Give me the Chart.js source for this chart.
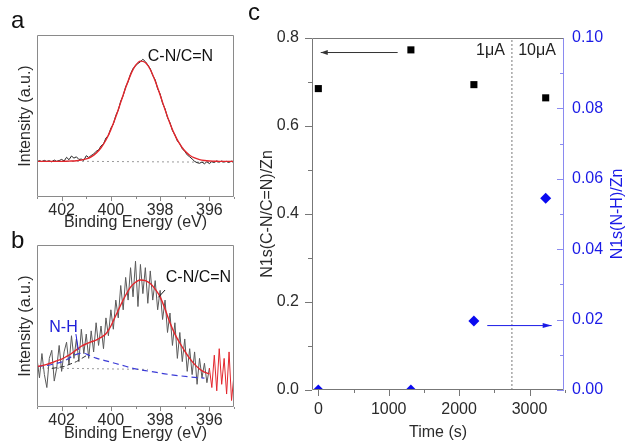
<!DOCTYPE html>
<html>
<head>
<meta charset="utf-8">
<script src="https://cdn.jsdelivr.net/npm/chart.js@4.4.1/dist/chart.umd.min.js"></script>
<style>
  html, body { margin: 0; padding: 0; background: #fff; }
  #wrap { position: relative; width: 631px; height: 443px; overflow: hidden; }
  canvas { position: absolute; }
  #panelA { left: 0; top: 0; }
  #panelB { left: 0; top: 228px; }
  #panelC { left: 230px; top: 0; }
</style>
</head>
<body>
<div id="wrap">
  <canvas id="panelA" width="240" height="232"></canvas>
  <canvas id="panelB" width="240" height="215"></canvas>
  <canvas id="panelC" width="401" height="443"></canvas>
</div>
<script>
// binding energy grids (eV)
const eFine = [403.0, 402.9, 402.8, 402.7, 402.6, 402.5, 402.4, 402.3, 402.2, 402.1,
  402.0, 401.9, 401.8, 401.7, 401.6, 401.5, 401.4, 401.3, 401.2, 401.1,
  401.0, 400.9, 400.8, 400.7, 400.6, 400.5, 400.4, 400.3, 400.2, 400.1,
  400.0, 399.9, 399.8, 399.7, 399.6, 399.5, 399.4, 399.3, 399.2, 399.1,
  399.0, 398.9, 398.8, 398.7, 398.6, 398.5, 398.4, 398.3, 398.2, 398.1,
  398.0, 397.9, 397.8, 397.7, 397.6, 397.5, 397.4, 397.3, 397.2, 397.1,
  397.0, 396.9, 396.8, 396.7, 396.6, 396.5, 396.4, 396.3, 396.2, 396.1,
  396.0, 395.9, 395.8, 395.7, 395.6, 395.5, 395.4, 395.3, 395.2, 395.1,
  395.0];
const eCoarse = [403.0, 402.8, 402.6, 402.4, 402.2, 402.0, 401.8, 401.6, 401.4, 401.2,
  401.0, 400.8, 400.6, 400.4, 400.2, 400.0, 399.8, 399.6, 399.4, 399.2,
  399.0, 398.8, 398.6, 398.4, 398.2, 398.0, 397.8, 397.6, 397.4, 397.2,
  397.0, 396.8, 396.6, 396.4, 396.2, 396.0, 395.8, 395.6, 395.4, 395.2,
  395.0];
const energyTicks = [396, 398, 400, 402];
const energyMinor = [395, 397, 399, 401, 403];

// panel a: measured N1s and fit (a.u.)
const spectrumA = [21.5, 22.5, 21.8, 22.6, 21.9, 22.4, 21.7, 22.8, 22.0, 22.5,
  23.2, 22.2, 24.5, 23.0, 25.3, 24.0, 24.8, 23.2, 23.4, 22.6,
  25.5, 24.4, 25.6, 26.5, 28.2, 29.0, 31.5, 32.8, 36.4, 38.0,
  42.5, 45.0, 50.3, 53.6, 59.2, 62.6, 68.0, 71.2, 76.0, 79.3,
  81.0, 82.4, 83.5, 85.0, 83.6, 81.5, 79.2, 75.0, 72.3, 66.8,
  63.6, 57.8, 54.5, 49.0, 45.9, 41.0, 38.4, 34.6, 32.9, 29.8,
  28.2, 26.0, 24.8, 23.5, 22.0, 21.2, 20.8, 21.6, 20.5, 21.8,
  20.6, 21.9, 21.3, 22.3, 21.5, 22.2, 21.6, 22.0, 21.4, 22.1,
  21.8];
const fitA = [22.0, 22.0, 22.0, 22.0, 22.0, 22.0, 22.1, 22.2, 22.4, 22.8,
  23.5, 24.8, 27.0, 30.4, 35.2, 41.6, 49.5, 58.4, 67.4, 75.4,
  81.2, 83.9, 83.0, 78.7, 71.6, 63.0, 53.9, 45.4, 38.2, 32.6,
  28.5, 25.8, 24.1, 23.1, 22.5, 22.2, 22.1, 22.0, 22.0, 22.0,
  22.0];
const baseA = [22.2, 21.4];
const baseAE = [403, 395];

// panel b: noisy N1s (403-396 eV grey, 396-395 eV red) and fits
const spectrumB = [30, 18, 33, 20, 12, 30, 35, 16, 24, 38,
  22, 34, 40, 26, 44, 30, 42, 28, 48, 33,
  45, 30, 47, 34, 52, 38, 50, 36, 55, 44,
  60, 48, 66, 55, 75, 60, 80, 66, 86, 68,
  90, 62, 88, 70, 86, 64, 84, 66, 78, 60,
  72, 54, 66, 46, 58, 38, 52, 30, 46, 28,
  42, 22, 36, 20, 34, 14, 30, 18, 27, 15,
  24];
const spectrumBTail = [24, 12, 32, 10, 36, 14, 30, 8, 34, 4, 20];
const fitB = [25, 25.5, 26.3, 27.3, 28.5, 29.6, 31.2, 33.0, 35.3, 37.5,
  39.0, 40.2, 41.3, 43.0, 45.2, 50.0, 56.5, 63, 69, 74,
  77, 78.4, 78, 76.2, 72.8, 68, 60.5, 52, 45, 39.5,
  34.5, 30, 26.3, 23.5, 21.5, 20.5];
const nhE = [403, 402.6, 402.2, 401.9, 401.6, 401.3, 401.1, 400.9, 400.6, 400.2, 399.6, 399.0, 398.4, 397.6, 396.8, 396.2];
const nhFit = [25, 25.6, 27, 28.3, 31, 33, 33.2, 32, 30.2, 28.5, 26, 23.5, 22, 20, 18.6, 17.8];
const cnTailE = [402.4, 401.9, 401.4, 400.9];
const cnTail = [23.8, 25, 28, 32.6];
const baseBE = [403, 398.5];
const baseB = [24.1, 23.2];

// panel c
const timeS = [0, 1315, 2210, 3230];
const ratioCN = [0.685, 0.773, 0.694, 0.664];
const ratioNH = [0, 0, 0.0196, 0.0545];
const switchTime = 2750;
const timeTicks = [0, 1000, 2000, 3000];
const timeMinor = [500, 1500, 2500, 3500];
const leftTicks = [0, 0.2, 0.4, 0.6, 0.8];
const leftMinor = [0.1, 0.3, 0.5, 0.7];
const rightTicks = [0, 0.02, 0.04, 0.06, 0.08, 0.1];
const rightMinor = [0.01, 0.03, 0.05, 0.07, 0.09];

const FONT = "'Liberation Sans', Arial, sans-serif";
const TXT = "#2b2b2b";
const BLUE = "#1a1ae6";
Chart.defaults.font.family = FONT;
Chart.defaults.font.size = 16;
Chart.defaults.color = TXT;

function toPoints(xs, ys) {
  return ys.map(function (y, i) { return { x: xs[i], y: y }; });
}
function fixedTicks(values) {
  return function (scale) { scale.ticks = values.map(function (v) { return { value: v }; }); };
}
const noGrid = { display: false, drawTicks: false };

// tick marks (major/minor, in or out) and the frame around the plot
const frameTicks = {
  id: "frameTicks",
  afterDraw(chart, args, opts) {
    const ctx = chart.ctx;
    const a = chart.chartArea;
    ctx.save();
    ctx.lineWidth = 1;
    (opts.marks || []).forEach(function (m) {
      const s = chart.scales[m.axis];
      ctx.strokeStyle = m.color;
      ctx.beginPath();
      m.values.forEach(function (v) {
        const p = Math.round(s.getPixelForValue(v)) + 0.5;
        if (s.isHorizontal()) {
          ctx.moveTo(p, a.bottom); ctx.lineTo(p, a.bottom + m.len);
        } else {
          const x0 = m.axis === "y2" ? a.right : a.left;
          ctx.moveTo(x0, p); ctx.lineTo(x0 + m.len, p);
        }
      });
      ctx.stroke();
    });
    const L = Math.round(a.left) + 0.5, R = Math.round(a.right) - 0.5;
    const T = Math.round(a.top) + 0.5, B = Math.round(a.bottom) - 0.5;
    const side = opts.sides || {};
    [["top", L, T, R, T], ["bottom", L, B, R, B], ["left", L, T, L, B], ["right", R, T, R, B]].forEach(function (d) {
      ctx.strokeStyle = side[d[0]] || "#8a8a8a";
      ctx.beginPath(); ctx.moveTo(d[1], d[2]); ctx.lineTo(d[3], d[4]); ctx.stroke();
    });
    ctx.restore();
  },
};

function panelLetter(ctx, letter, x, y) {
  ctx.save();
  ctx.font = "24px " + FONT;
  ctx.fillStyle = "#111";
  ctx.textAlign = "left";
  ctx.textBaseline = "alphabetic";
  ctx.fillText(letter, x, y);
  ctx.restore();
}

function arrow(ctx, x0, y0, x1, y1, color, headLen) {
  ctx.strokeStyle = color; ctx.fillStyle = color; ctx.lineWidth = 1;
  ctx.beginPath(); ctx.moveTo(x0, y0); ctx.lineTo(x1, y1); ctx.stroke();
  const dir = Math.sign(x1 - x0);
  ctx.beginPath();
  ctx.moveTo(x1, y1);
  ctx.lineTo(x1 - dir * headLen, y1 - 2.5);
  ctx.lineTo(x1 - dir * headLen, y1 + 2.5);
  ctx.closePath(); ctx.fill();
}

function xpsOptions(padTop, xHeight) {
  return {
    responsive: false,
    animation: false,
    devicePixelRatio: 1,
    layout: { padding: { top: padTop, right: 6, left: 0, bottom: 0 } },
    plugins: {
      legend: { display: false },
      tooltip: { enabled: false },
      frameTicks: {
        marks: [
          { axis: "x", values: energyTicks, len: 4, color: "#8a8a8a" },
          { axis: "x", values: energyMinor, len: 2, color: "#8a8a8a" },
        ],
      },
    },
    scales: {
      x: {
        type: "linear", min: 395, max: 403, reverse: true,
        afterBuildTicks: fixedTicks(energyTicks),
        afterFit: function (s) { s.height = xHeight; },
        grid: noGrid, border: { display: false },
        ticks: { padding: 4, autoSkip: false, maxRotation: 0, color: TXT },
        title: { display: true, text: "Binding Energy (eV)", color: TXT, padding: { top: 0, bottom: 0 } },
      },
      y: {
        min: 0, max: 100,
        afterFit: function (s) { s.width = 37; },
        grid: noGrid, border: { display: false },
        ticks: { display: false },
        title: { display: true, text: "Intensity (a.u.)", color: TXT, padding: { top: 16, bottom: 0 } },
      },
    },
  };
}

function lineSet(xs, ys, color, width, extra) {
  return Object.assign({
    data: toPoints(xs, ys), borderColor: color, borderWidth: width,
    pointRadius: 0, tension: 0, fill: false,
  }, extra || {});
}

// ---- panel a
new Chart(document.getElementById("panelA"), {
  type: "line",
  data: {
    datasets: [
      lineSet(eCoarse, fitA, "#e3262c", 1.4, { order: 0, cubicInterpolationMode: "monotone" }),
      lineSet(eFine, spectrumA, "#222", 1, { order: 1 }),
      lineSet(baseAE, baseA, "#9a9a9a", 1, { order: 2, borderDash: [2, 3] }),
    ],
  },
  options: xpsOptions(35, 35),
  plugins: [frameTicks, {
    id: "notesA",
    afterDraw(chart) {
      const ctx = chart.ctx, x = chart.scales.x, y = chart.scales.y;
      ctx.save();
      ctx.font = "16px " + FONT; ctx.fillStyle = "#111";
      ctx.fillText("C-N/C=N", x.getPixelForValue(398.5), y.getPixelForValue(84));
      ctx.restore();
      panelLetter(ctx, "a", 11, 28);
    },
  }],
});

// ---- panel b
new Chart(document.getElementById("panelB"), {
  type: "line",
  data: {
    datasets: [
      lineSet(eCoarse.slice(0, fitB.length), fitB, "#e3262c", 1.4, { order: 0, cubicInterpolationMode: "monotone" }),
      lineSet(eFine.slice(70), spectrumBTail, "#e3262c", 1, { order: 1 }),
      lineSet(nhE, nhFit, "#3b3bd6", 1.2, { order: 2, borderDash: [6, 4], cubicInterpolationMode: "monotone" }),
      lineSet(cnTailE, cnTail, "#333", 1, { order: 3, borderDash: [5, 3] }),
      lineSet(eFine.slice(0, spectrumB.length), spectrumB, "#5a5a5a", 1, { order: 4 }),
      lineSet(baseBE, baseB, "#9a9a9a", 1, { order: 5, borderDash: [2, 3] }),
    ],
  },
  options: xpsOptions(17, 36),
  plugins: [frameTicks, {
    id: "notesB",
    afterDraw(chart) {
      const ctx = chart.ctx, x = chart.scales.x, y = chart.scales.y;
      ctx.save();
      ctx.font = "16px " + FONT;
      ctx.fillStyle = "#111";
      ctx.fillText("C-N/C=N", x.getPixelForValue(397.77), y.getPixelForValue(77.3));
      ctx.strokeStyle = "#111"; ctx.lineWidth = 1;
      ctx.beginPath();
      ctx.moveTo(x.getPixelForValue(397.8), y.getPixelForValue(72.2));
      ctx.lineTo(x.getPixelForValue(398.07), y.getPixelForValue(67.7));
      ctx.stroke();
      ctx.fillStyle = "#2020d8";
      ctx.fillText("N-H", x.getPixelForValue(402.5), y.getPixelForValue(46.1));
      ctx.strokeStyle = "#2020d8";
      ctx.beginPath();
      ctx.moveTo(x.getPixelForValue(401.42), y.getPixelForValue(45));
      ctx.lineTo(x.getPixelForValue(401.32), y.getPixelForValue(35.2));
      ctx.stroke();
      ctx.restore();
      panelLetter(ctx, "b", 11, 20);
    },
  }],
});

// ---- panel c
new Chart(document.getElementById("panelC"), {
  type: "scatter",
  data: {
    datasets: [
      {
        data: toPoints(timeS, ratioCN), yAxisID: "y",
        pointStyle: "rect", pointRadius: 5, backgroundColor: "#000", borderWidth: 0, order: 0,
      },
      {
        data: toPoints(timeS, ratioNH), yAxisID: "y2",
        pointStyle: "rectRot", pointRadius: 5.5, backgroundColor: "#0a0af0", borderWidth: 0, clip: 0, order: 1,
      },
      {
        type: "line", data: [{ x: switchTime, y: 0 }, { x: switchTime, y: 0.8 }], yAxisID: "y",
        borderColor: "#7a7a7a", borderWidth: 1, borderDash: [2, 2], pointRadius: 0, showLine: true, order: 2,
      },
    ],
  },
  options: {
    responsive: false,
    animation: false,
    devicePixelRatio: 1,
    layout: { padding: { top: 38, right: 0, left: 0, bottom: 0 } },
    plugins: {
      legend: { display: false },
      tooltip: { enabled: false },
      frameTicks: {
        marks: [
          { axis: "x", values: timeTicks, len: 6, color: "#777" },
          { axis: "x", values: timeMinor, len: 3, color: "#777" },
          { axis: "y", values: leftTicks, len: -7, color: "#777" },
          { axis: "y", values: leftMinor, len: -4, color: "#777" },
          { axis: "y2", values: rightTicks, len: -7, color: "#8a8af0" },
          { axis: "y2", values: rightMinor, len: -4, color: "#8a8af0" },
        ],
        sides: { top: "#777", left: "#777", bottom: "#777", right: "#8a8af0" },
      },
    },
    scales: {
      x: {
        type: "linear", min: -90, max: 3490,
        afterBuildTicks: fixedTicks(timeTicks),
        afterFit: function (s) { s.height = 53; },
        grid: noGrid, border: { display: false },
        ticks: { padding: 10, autoSkip: false, maxRotation: 0, color: TXT, callback: function (v) { return String(v); } },
        title: { display: true, text: "Time (s)", color: TXT, padding: { top: 0, bottom: 1 } },
      },
      y: {
        min: 0, max: 0.8,
        afterBuildTicks: fixedTicks(leftTicks),
        afterFit: function (s) { s.width = 82; },
        grid: noGrid, border: { display: false },
        ticks: { padding: 13, color: TXT, callback: function (v) { return v.toFixed(1); } },
        title: { display: true, text: "N1s(C-N/C=N)/Zn", color: TXT, padding: { top: 28, bottom: 0 } },
      },
      y2: {
        position: "right", min: 0, max: 0.1,
        afterBuildTicks: fixedTicks(rightTicks),
        afterFit: function (s) { s.width = 67; },
        grid: noGrid, border: { display: false },
        ticks: { padding: 8, color: BLUE, callback: function (v) { return v.toFixed(2); } },
      },
    },
  },
  plugins: [frameTicks, {
    id: "notesC",
    afterDraw(chart) {
      const ctx = chart.ctx, x = chart.scales.x, y = chart.scales.y, y2 = chart.scales.y2;
      const a = chart.chartArea;
      ctx.save();
      arrow(ctx, x.getPixelForValue(1127), y.getPixelForValue(0.767), x.getPixelForValue(34), y.getPixelForValue(0.767), "#333", 7);
      arrow(ctx, x.getPixelForValue(2400), y2.getPixelForValue(0.0183), x.getPixelForValue(3315), y2.getPixelForValue(0.0183), "#1a1ae6", 9);
      ctx.font = "16px " + FONT;
      ctx.fillStyle = "#222";
      ctx.fillText("1\u03bcA", x.getPixelForValue(2240), y.getPixelForValue(0.761));
      ctx.fillText("10\u03bcA", x.getPixelForValue(2839), y.getPixelForValue(0.761));
      // right axis title, reading bottom to top
      ctx.translate(a.right + 54, (a.top + a.bottom) / 2);
      ctx.rotate(-Math.PI / 2);
      ctx.textAlign = "center"; ctx.textBaseline = "middle";
      ctx.fillStyle = BLUE;
      ctx.fillText("N1s(N-H)/Zn", 0, 0);
      ctx.restore();
      panelLetter(ctx, "c", 18, 20);
    },
  }],
});
</script>
</body>
</html>
